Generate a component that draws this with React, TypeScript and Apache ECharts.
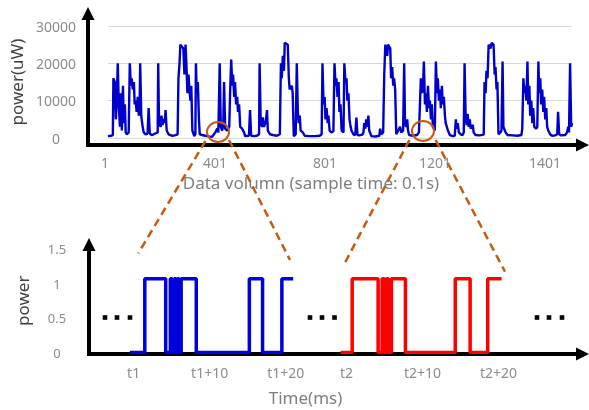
import React, { useEffect, useRef } from 'react';
import * as echarts from 'echarts';

// ---- Top chart: power trace (sample index, power in uW) ----
const TOP_SAMPLE = [
  1, 12, 19, 21, 26, 30, 34, 37, 41, 45, 48, 52, 56, 59, 63, 66, 70, 77, 81, 85, 88, 92, 96, 99, 103, 106, 110, 114, 117, 119, 123, 128, 132, 139, 146, 150, 154, 161, 168, 183, 185, 188, 194, 197, 201, 205, 208, 212, 216, 223, 230, 237, 245, 256, 259, 263, 266, 277, 281, 285, 288, 292, 296, 299, 303, 306, 310, 317, 321, 323, 326, 330, 334, 337, 346, 357, 365, 376, 383, 394, 401, 405,
  410, 414, 419, 423, 426, 430, 437, 445, 448, 452, 456, 459, 463, 466, 470, 474, 477, 481, 485, 492, 499, 503, 517, 521, 525, 536, 546, 554, 556, 560, 565, 568, 572, 579, 583, 586, 594, 605, 619, 630, 634, 637, 641, 645, 648, 659, 663, 666, 674, 677, 681, 688, 692, 696, 699, 703, 706, 714, 721, 739, 757, 776, 783, 786, 790, 794, 797, 801, 805, 808, 812, 819, 826, 830, 834, 837, 841, 845, 848, 852,
  856, 863, 866, 870, 874, 877, 881, 885, 888, 892, 899, 906, 910, 914, 921, 932, 936, 939, 943, 946, 950, 954, 957, 965, 979, 994, 997, 1001, 1008, 1012, 1016, 1023, 1026, 1034, 1037, 1041, 1045, 1048, 1052, 1056, 1063, 1070, 1074, 1081, 1085, 1088, 1092, 1096, 1099, 1103, 1117, 1132, 1139, 1146, 1150, 1154, 1157, 1161, 1165, 1168, 1172, 1176, 1179, 1183, 1186, 1190, 1197, 1201, 1205, 1208, 1212, 1216, 1219, 1223, 1226, 1230, 1234, 1237, 1245, 1252, 1263, 1270,
  1274, 1277, 1281, 1285, 1292, 1299, 1303, 1306, 1310, 1314, 1317, 1321, 1325, 1328, 1336, 1339, 1346, 1361, 1376, 1379, 1383, 1386, 1390, 1394, 1401, 1405, 1412, 1416, 1419, 1423, 1426, 1430, 1437, 1441, 1445, 1448, 1456, 1463, 1481, 1499, 1514, 1517, 1521, 1525, 1528, 1532, 1536, 1539, 1543, 1546, 1550, 1554, 1557, 1561, 1568, 1572, 1576, 1579, 1583, 1586, 1590, 1594, 1597, 1601, 1605, 1608, 1612, 1619, 1626, 1637, 1645, 1648, 1652, 1659, 1674, 1681, 1685, 1688, 1692, 1696, 1699,
];
const TOP_POWER = [
  500, 600, 800, 16000, 15000, 5000, 12000, 20000, 8000, 3000, 12000, 2000, 14000, 4000, 9000, 1500, 1000, 1500, 20000, 14000, 16000, 13000, 15000, 9000, 10000, 7000, 11000, 6000, 8000, 20000, 6000, 3000, 1500, 1000, 1200, 8000, 1200, 800, 1000, 1500, 20000, 4000, 3000, 6000, 3500, 5000, 4000, 7500, 2000, 1000, 800, 600, 700, 1000, 16000, 20000, 25000, 24000, 17000, 25000, 20000, 12000, 17000, 13000, 10000, 14000, 2000, 500, 1000, 20000, 12000, 15000, 5000, 1000, 800, 600, 500, 300, 400, 1500, 2500, 1500,
  20000, 3000, 2000, 3500, 15000, 2500, 2000, 3000, 12000, 21000, 14000, 17000, 11000, 15000, 9000, 11000, 7000, 9000, 3000, 2500, 1500, 500, 600, 7500, 600, 500, 600, 1000, 20000, 4000, 3000, 5500, 3000, 4500, 7500, 2000, 1000, 800, 600, 1000, 20000, 16000, 22000, 18000, 25500, 25000, 16000, 13000, 14000, 12000, 500, 1000, 20000, 7000, 4000, 6000, 2000, 1500, 600, 500, 500, 600, 1000, 20000, 9000, 11000, 5000, 8000, 4000, 6000, 2000, 1500, 1800, 20000, 14000, 16000, 11000, 15000, 7000, 9000,
  2000, 1500, 20000, 15000, 16000, 10000, 12000, 5000, 3500, 2000, 1000, 800, 5500, 800, 700, 900, 1500, 4000, 2500, 5000, 3000, 6000, 2000, 500, 400, 600, 2500, 1000, 1500, 17000, 25000, 22000, 25000, 24000, 16000, 19000, 14000, 16000, 13000, 1000, 2000, 3000, 1500, 2000, 20000, 4000, 3000, 5000, 2000, 800, 600, 800, 1500, 16000, 12000, 14000, 20500, 9000, 12000, 7000, 14000, 8000, 10000, 5000, 9000, 3000, 2000, 20500, 12000, 16000, 10000, 13000, 8000, 14000, 9000, 11000, 6000, 4000, 2000, 800, 500, 600,
  5000, 2500, 4000, 1500, 1000, 800, 1500, 20000, 5000, 3500, 6500, 3000, 5000, 2500, 3500, 1500, 800, 700, 900, 15000, 12000, 18000, 16000, 25000, 24000, 25500, 25000, 17000, 19000, 13000, 15000, 1000, 1500, 2000, 20500, 3000, 1500, 800, 700, 600, 800, 2500, 16000, 12000, 14000, 10000, 20500, 9000, 14000, 6000, 10000, 4000, 8000, 3000, 2500, 3000, 20500, 12000, 16000, 9000, 13000, 7000, 11000, 5000, 8000, 3000, 2000, 1000, 600, 700, 1000, 7000, 1000, 700, 800, 1500, 3000, 1500, 20000, 3000, 4000,
];
const TOP_X_LABELS = ['1', '401', '801', '1201', '1401'];

// ---- Bottom chart: two binary power windows (time in ms relative to t1) ----
const BOTTOM_TICK_VALUES = [0, 10, 20, 28, 38, 48];
const BOTTOM_TICK_LABELS = ['t1', 't1+10', 't1+20', 't2', 't2+10', 't2+20'];
const BLUE_T = [-0.5, 1.47, 4.22, 4.83, 5.07, 5.33, 5.59, 5.79, 5.99, 6.25, 8.24, 15.22, 16.96, 19.5, 20.99];
const BLUE_V = [0, 1.07, 0, 1.07, 0, 1.07, 0, 1.07, 0, 1.07, 0, 1.07, 0, 1.07, 1.07];
const RED_T = [27.23, 28.75, 32.16, 32.68, 32.97, 33.23, 33.5, 33.91, 35.75, 42.3, 44.26, 46.57, 48.4];
const RED_V = [0, 1.07, 0, 1.07, 0, 1.07, 0, 1.07, 0, 1.07, 0, 1.07, 1.07];

const FONT = 'Noto Sans';
const TICK_GRAY = '#8C8C8C';
const ORANGE = '#C55A11';

function arrowAxes(x0: number, y0: number, top: number, right: number) {
  return [
    { type: 'line', z: 1, shape: { x1: x0, y1: y0 + 2, x2: x0, y2: top + 10 }, style: { stroke: '#000', lineWidth: 4 } },
    { type: 'polygon', z: 1, shape: { points: [[x0, top], [x0 - 6.5, top + 13], [x0 + 6.5, top + 13]] }, style: { fill: '#000' } },
    { type: 'line', z: 1, shape: { x1: x0 - 2, y1: y0, x2: right - 10, y2: y0 }, style: { stroke: '#000', lineWidth: 4 } },
    { type: 'polygon', z: 1, shape: { points: [[right, y0], [right - 13, y0 - 6.5], [right - 13, y0 + 6.5]] }, style: { fill: '#000' } },
  ];
}

function dots(cxs: number[], cy: number) {
  return cxs.map((cx) => ({
    type: 'rect', z: 50, shape: { x: cx - 2.3, y: cy - 2.3, width: 4.6, height: 4.6 }, style: { fill: '#000' },
  }));
}

function dashed(x1: number, y1: number, x2: number, y2: number) {
  return { type: 'line', z: 60, shape: { x1, y1, x2, y2 }, style: { stroke: ORANGE, lineWidth: 2.5, lineDash: [8, 5] } };
}

export default function App() {
  const ref = useRef<HTMLDivElement>(null);
  useEffect(() => {
    if (!ref.current) return;
    const chart = echarts.init(ref.current, undefined, { renderer: 'svg' });
    const topData = TOP_SAMPLE.map((s, i) => [s, TOP_POWER[i]]);
    const blueData = BLUE_T.map((t, i) => [t, BLUE_V[i]]);
    const redData = RED_T.map((t, i) => [t, RED_V[i]]);
    chart.setOption({
      animation: false,
      textStyle: { fontFamily: FONT },
      grid: [
        { left: 105, right: 17, top: 26, bottom: 272 },
        { left: 105, right: 44, top: 26, bottom: 265 },
        { left: 88, right: 1, top: 249, bottom: 57.5 },
      ],
      xAxis: [
        { gridIndex: 0, type: 'value', min: 1, max: 1699, show: false },
        {
          gridIndex: 1, type: 'category', data: TOP_X_LABELS, boundaryGap: false,
          axisLine: { show: false }, axisTick: { show: false }, splitLine: { show: false },
          axisLabel: { color: TICK_GRAY, fontSize: 14, margin: 10, fontFamily: FONT, interval: 0 },
          name: 'Data volumn (sample time: 0.1s)', nameLocation: 'middle', nameGap: 29,
          nameTextStyle: { color: '#7F7F7F', fontSize: 17, fontFamily: FONT, padding: [0, 28, 0, 0] },
        },
        {
          gridIndex: 2, type: 'value', min: -6, max: 59.5, interval: 1,
          axisLine: { show: false }, axisTick: { show: false }, splitLine: { show: false },
          axisLabel: {
            color: TICK_GRAY, fontSize: 14, margin: 13, fontFamily: FONT,
            formatter: (v: number) => {
              const i = BOTTOM_TICK_VALUES.indexOf(Math.round(v * 100) / 100);
              return i >= 0 ? BOTTOM_TICK_LABELS[i] : '';
            },
          },
          name: 'Time(ms)', nameLocation: 'middle', nameGap: 36,
          nameTextStyle: { color: '#7F7F7F', fontSize: 17, fontFamily: FONT, padding: [0, 63, 0, 0] },
        },
      ],
      yAxis: [
        {
          gridIndex: 0, type: 'value', min: 0, max: 30000, interval: 10000,
          axisLine: { show: false }, axisTick: { show: false },
          splitLine: { show: true, lineStyle: { color: '#D9D9D9', width: 1 } },
          axisLabel: { color: TICK_GRAY, fontSize: 14, margin: 52, align: 'center', fontFamily: FONT, formatter: (v: number) => String(v) },
          name: 'power(uW)', nameLocation: 'middle', nameGap: 75,
          nameTextStyle: { color: '#404040', fontSize: 17, fontFamily: FONT },
        },
        { gridIndex: 1, type: 'value', show: false },
        {
          gridIndex: 2, type: 'value', min: 0, max: 1.5, interval: 0.5,
          axisLine: { show: false }, axisTick: { show: false }, splitLine: { show: false },
          axisLabel: { color: TICK_GRAY, fontSize: 13, margin: 31, align: 'center', fontFamily: FONT },
          name: 'power', nameLocation: 'middle', nameGap: 57,
          nameTextStyle: { color: '#404040', fontSize: 17, fontFamily: FONT },
        },
      ],
      series: [
        {
          type: 'line', xAxisIndex: 0, yAxisIndex: 0, data: topData, showSymbol: false,
          lineStyle: { color: '#0000CC', width: 2.4 }, z: 3,
        },
        {
          type: 'line', xAxisIndex: 2, yAxisIndex: 2, data: blueData, step: 'end', showSymbol: false,
          lineStyle: { color: '#0000DD', width: 3.5 }, z: 3,
        },
        {
          type: 'line', xAxisIndex: 2, yAxisIndex: 2, data: redData, step: 'end', showSymbol: false,
          lineStyle: { color: '#FF0000', width: 3.5 }, z: 3,
        },
      ],
      graphic: [
        ...arrowAxes(88, 145, 7, 589),
        ...arrowAxes(89, 354, 238, 589),
        ...dots([105, 117, 130], 317.5),
        ...dots([310, 322, 334.5], 317.5),
        ...dots([537, 549, 562], 317.5),
        { type: 'ellipse', z: 60, shape: { cx: 218, cy: 132, rx: 11, ry: 10 }, style: { fill: 'none', stroke: ORANGE, lineWidth: 2 } },
        { type: 'ellipse', z: 60, shape: { cx: 423, cy: 131, rx: 11, ry: 10 }, style: { fill: 'none', stroke: ORANGE, lineWidth: 2 } },
        dashed(205.5, 141, 138.3, 253.3),
        dashed(229, 140, 290, 260),
        dashed(409.4, 140, 343.3, 266),
        dashed(435.6, 140, 505, 271.7),
      ],
    });
    return () => chart.dispose();
  }, []);
  return <div ref={ref} style={{ position: 'fixed', left: 0, top: 0, width: 589, height: 410 }} />;
}
